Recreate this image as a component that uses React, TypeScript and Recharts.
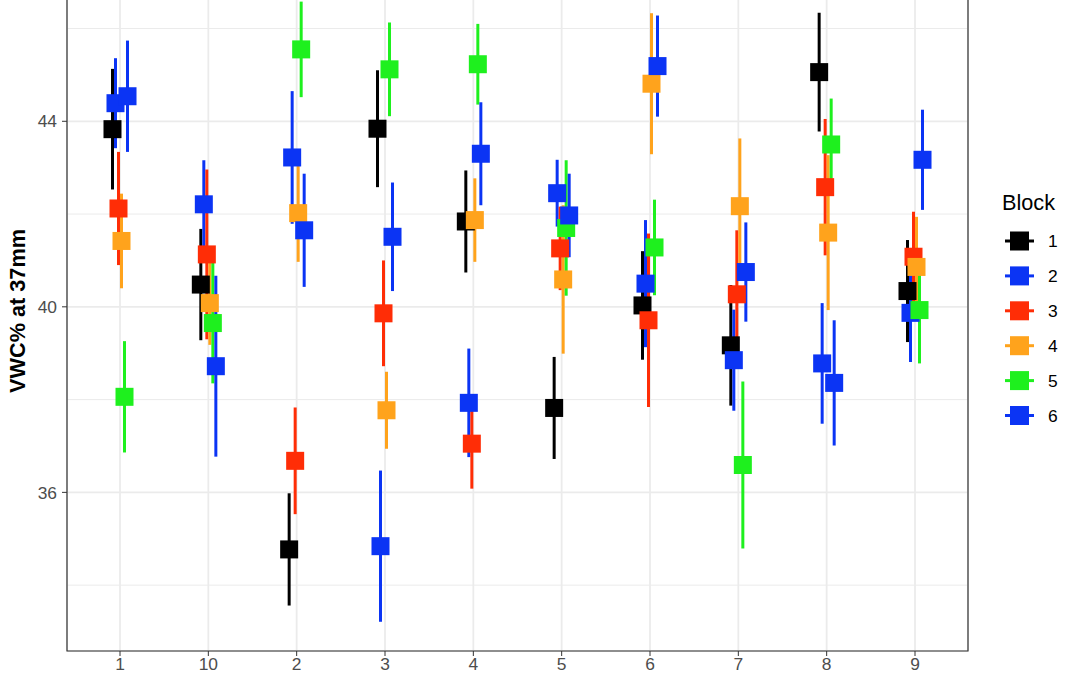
import React from 'react';
import {
  CartesianGrid,
  ErrorBar,
  ReferenceArea,
  Scatter,
  ScatterChart,
  XAxis,
  YAxis,
} from 'recharts';

// VWC% at 37mm, mean ± error by plot and block (ggplot-style dodged points)

const categories = ['1', '10', '2', '3', '4', '5', '6', '7', '8', '9'];
const blocks = ['1', '2', '3', '4', '5', '6'];
const blockColors = ['#000000', '#0b34f4', '#ff2d06', '#ffa31c', '#1ef01e', '#0b34f4'];

const block1Mean = [43.83, 40.48, 34.77, 43.84, 41.84, 37.82, 40.03, 39.17, 45.06, 40.34];
const block1Err = [1.3, 1.2, 1.21, 1.26, 1.1, 1.1, 1.17, 1.3, 1.28, 1.1];
const block2Mean = [44.39, 42.21, 43.22, 34.84, 37.93, 42.45, 40.5, 38.85, 38.78, 39.87];
const block2Err = [0.97, 0.95, 1.43, 1.63, 1.17, 0.72, 1.37, 1.09, 1.3, 1.06];
const block3Mean = [42.12, 41.13, 36.68, 39.86, 37.05, 41.26, 39.71, 40.27, 42.58, 41.08];
const block3Err = [1.22, 1.83, 1.15, 1.14, 0.97, 0.9, 1.87, 1.38, 1.47, 0.97];
const block4Mean = [41.42, 40.08, 42.02, 37.77, 41.87, 40.59, 44.81, 42.17, 41.6, 40.86];
const block4Err = [1.02, 0.9, 1.05, 0.83, 0.9, 1.6, 1.52, 1.46, 1.67, 1.08];
const block5Mean = [38.06, 39.65, 45.55, 45.12, 45.23, 41.7, 41.28, 36.59, 43.5, 39.93];
const block5Err = [1.2, 1.3, 1.03, 1.01, 0.87, 1.46, 1.03, 1.8, 0.99, 1.15];
const block6Mean = [44.54, 38.72, 41.65, 41.51, 43.3, 41.97, 45.19, 40.75, 38.36, 43.17];
const block6Err = [1.2, 1.95, 1.22, 1.17, 1.11, 0.9, 1.09, 1.07, 1.35, 1.08];

const yMajorTicks = [36, 40, 44];
const yMinorTicks = [34, 38, 42, 46];

const means = [block1Mean, block2Mean, block3Mean, block4Mean, block5Mean, block6Mean];
const errs = [block1Err, block2Err, block3Err, block4Err, block5Err, block6Err];

const DODGE = 0.034; // position_dodge step between blocks (category units)
const X_DOMAIN: [number, number] = [0.4, 10.6];
const Y_DOMAIN: [number, number] = [32.58, 47.24];
const FONT = '"Liberation Sans", Arial, Helvetica, sans-serif';
const SHIFT = 36; // plot is cropped at the top, like the reference

const series = blocks.map((b, bi) => ({
  name: b,
  color: blockColors[bi],
  data: categories.map((_, ci) => ({
    x: ci + 1 + (bi - 2.5) * DODGE,
    y: means[bi][ci],
    err: errs[bi][ci],
  })),
}));

const SquareShape = (color: string) => (props: any) => {
  const { cx, cy } = props;
  if (cx == null || cy == null) return <g />;
  return <rect x={cx - 9} y={cy - 9} width={18} height={18} fill={color} />;
};

function YTitle(props: any) {
  const vb = props.viewBox || {};
  const cy = (vb.y ?? 0) + (vb.height ?? 0) / 2;
  const cx = 17;
  return (
    <text
      x={cx}
      y={cy}
      transform={`rotate(-90 ${cx} ${cy})`}
      textAnchor="middle"
      dominantBaseline="central"
      fontFamily={FONT}
      fontSize={21.7}
      fontWeight="bold"
      fill="#000"
    >
      VWC% at 37mm
    </text>
  );
}

function BlockLegend() {
  return (
    <svg width={85} height={250} style={{ position: 'absolute', left: 995, top: 185 }}>
      <text x={7} y={25} fontFamily={FONT} fontSize={21.7} fill="#000">
        Block
      </text>
      {blocks.map((b, i) => {
        const yc = 56 + i * 34.9;
        return (
          <g key={b}>
            <line x1={10} x2={39} y1={yc} y2={yc} stroke={blockColors[i]} strokeWidth={3} />
            <rect x={15} y={yc - 9.5} width={19} height={19} fill={blockColors[i]} />
            <text x={53} y={yc + 6} fontFamily={FONT} fontSize={17.4} fill="#000">
              {b}
            </text>
          </g>
        );
      })}
    </svg>
  );
}

export default function App() {
  return (
    <div
      style={{
        position: 'fixed',
        left: 0,
        top: 0,
        width: 1080,
        height: 675,
        overflow: 'hidden',
        background: '#fff',
      }}
    >
      <div style={{ position: 'absolute', left: 0, top: -SHIFT }}>
        <ScatterChart
          width={1080}
          height={675 + SHIFT}
          margin={{ top: 7, right: 112, bottom: 0, left: 0 }}
        >
          <CartesianGrid
            yAxisId="minor"
            vertical={false}
            stroke="#ebebeb"
            strokeWidth={1}
          />
          <CartesianGrid stroke="#ebebeb" strokeWidth={1.8} />
          <XAxis
            type="number"
            dataKey="x"
            domain={X_DOMAIN}
            ticks={categories.map((_, i) => i + 1)}
            interval={0}
            tickFormatter={(v: number) => categories[Math.round(v) - 1] ?? ''}
            height={24}
            tickSize={5}
            tickMargin={2}
            axisLine={false}
            tickLine={{ stroke: '#333333' }}
            tick={{ fontSize: 17.4, fill: '#4d4d4d', fontFamily: FONT }}
            allowDataOverflow
          />
          <YAxis
            type="number"
            dataKey="y"
            domain={Y_DOMAIN}
            ticks={yMajorTicks}
            width={67}
            tickSize={5}
            tickMargin={5}
            axisLine={false}
            tickLine={{ stroke: '#333333' }}
            tick={{ fontSize: 17.4, fill: '#4d4d4d', fontFamily: FONT }}
            label={<YTitle />}
            allowDataOverflow
          />
          <YAxis
            yAxisId="minor"
            type="number"
            domain={Y_DOMAIN}
            ticks={yMinorTicks}
            hide
            allowDataOverflow
          />
          <ReferenceArea
            x1={X_DOMAIN[0]}
            x2={X_DOMAIN[1]}
            y1={Y_DOMAIN[0]}
            y2={Y_DOMAIN[1]}
            fill="none"
            stroke="#333333"
            strokeWidth={1.2}
          />
          {series.map((s) => (
            <Scatter
              key={`err-${s.name}`}
              name={`err-${s.name}`}
              data={s.data}
              shape={() => <g />}
              isAnimationActive={false}
              legendType="none"
            >
              <ErrorBar
                dataKey="err"
                direction="y"
                width={0}
                stroke={s.color}
                strokeWidth={3}
                isAnimationActive={false}
              />
            </Scatter>
          ))}
          {series.map((s) => (
            <Scatter
              key={`pt-${s.name}`}
              name={s.name}
              data={s.data}
              fill={s.color}
              shape={SquareShape(s.color)}
              isAnimationActive={false}
            />
          ))}
        </ScatterChart>
      </div>
      <BlockLegend />
    </div>
  );
}
